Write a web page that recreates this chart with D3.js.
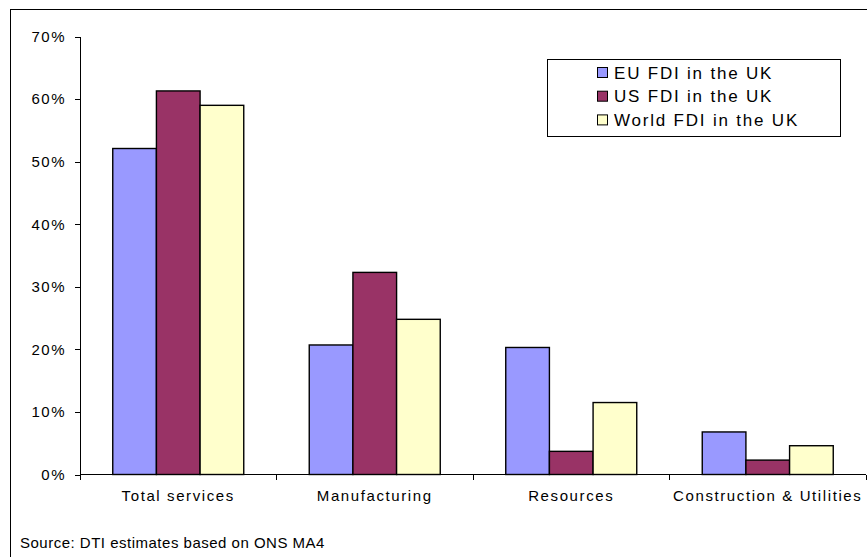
<!DOCTYPE html>
<html><head><meta charset="utf-8">
<script src="https://cdn.jsdelivr.net/npm/d3@7"></script>
<style>
body{margin:0;background:#fff;}
svg text{font-family:Arial,"Liberation Sans",sans-serif;fill:#000;}
</style></head>
<body><svg id="c" width="867" height="557"></svg>
<script>
const categories = ["Total services","Manufacturing","Resources","Construction & Utilities"];
const seriesNames = ["EU FDI in the UK","US FDI in the UK","World FDI in the UK"];
const euValues = [52.1, 20.7, 20.3, 6.8];
const usValues = [61.3, 32.3, 3.7, 2.3];
const worldValues = [59.0, 24.8, 11.5, 4.6];
const yTicks = [0,10,20,30,40,50,60,70];
const colors = ["#9999FF","#993366","#FFFFCC"];
const sourceText = "Source: DTI estimates based on ONS MA4";

const series = [euValues, usValues, worldValues];
const svg = d3.select("#c");

svg.append("rect").attr("x",10.5).attr("y",9.5).attr("width",900).attr("height",600)
  .attr("fill","#fff").attr("stroke","#000").attr("stroke-width",1);

const x0 = d3.scaleBand().domain(categories).range([80,866]).paddingInner(0).paddingOuter(0);
// gap width 150%: group of 3 bars occupies 3/4.5 of band, centered
const x1 = d3.scaleBand().domain(d3.range(3)).paddingInner(0).paddingOuter(0)
  .range([x0.bandwidth()*0.75/4.5, x0.bandwidth()*(1-0.75/4.5)]);
const y = d3.scaleLinear().domain([0,70]).range([474.5,36.5]);

// y axis
const yAxis = svg.append("g").attr("transform","translate(80,0)")
  .call(d3.axisLeft(y).tickValues(yTicks).tickSize(5).tickPadding(9).tickFormat(d=>d+"%"));
yAxis.selectAll("path,line").attr("stroke","#000").attr("shape-rendering","crispEdges");
yAxis.select(".domain").attr("d","M0,"+y(70)+"V"+y(0));
yAxis.selectAll("text").attr("font-size","15px").style("letter-spacing","1.5px").attr("fill","#000");

// x axis
const xAxis = svg.append("g").attr("transform","translate(0,"+y(0)+")");
xAxis.append("line").attr("x1",80).attr("x2",866).attr("y1",0).attr("y2",0)
  .attr("stroke","#000").attr("shape-rendering","crispEdges");
const bounds = categories.map(c=>x0(c)).concat([x0(categories[3])+x0.bandwidth()]);
xAxis.selectAll("line.tk").data(bounds).join("line").attr("class","tk")
  .attr("x1",d=>d).attr("x2",d=>d).attr("y1",0).attr("y2",5)
  .attr("stroke","#000").attr("shape-rendering","crispEdges");
xAxis.selectAll("text").data(categories).join("text")
  .attr("x",d=>x0(d)+x0.bandwidth()/2).attr("y",26)
  .attr("text-anchor","middle").attr("font-size","15px").style("letter-spacing","1.6px")
  .text(d=>d);

// bars
series.forEach((vals,si)=>{
  svg.append("g").selectAll("rect").data(vals).join("rect")
    .attr("x",(d,i)=>x0(categories[i])+x1(si))
    .attr("width",x1.bandwidth())
    .attr("y",d=>y(d)).attr("height",d=>y(0)-y(d))
    .attr("fill",colors[si]).attr("stroke","#000").attr("stroke-width",1.4);
});

// legend
const lg = svg.append("g");
lg.append("rect").attr("x",547.5).attr("y",59.5).attr("width",293).attr("height",77)
  .attr("fill","#fff").attr("stroke","#000");
seriesNames.forEach((n,i)=>{
  const cy = 72.5 + i*23.7;
  lg.append("rect").attr("x",597.5).attr("y",cy-5).attr("width",10).attr("height",10)
    .attr("fill",colors[i]).attr("stroke","#000");
  lg.append("text").attr("x",614).attr("y",cy+6).attr("font-size","17px")
    .style("letter-spacing","1.8px").text(n);
});

svg.append("text").attr("x",20).attr("y",548).attr("font-size","15px")
  .style("letter-spacing","0.5px").text(sourceText);
</script></body></html>
